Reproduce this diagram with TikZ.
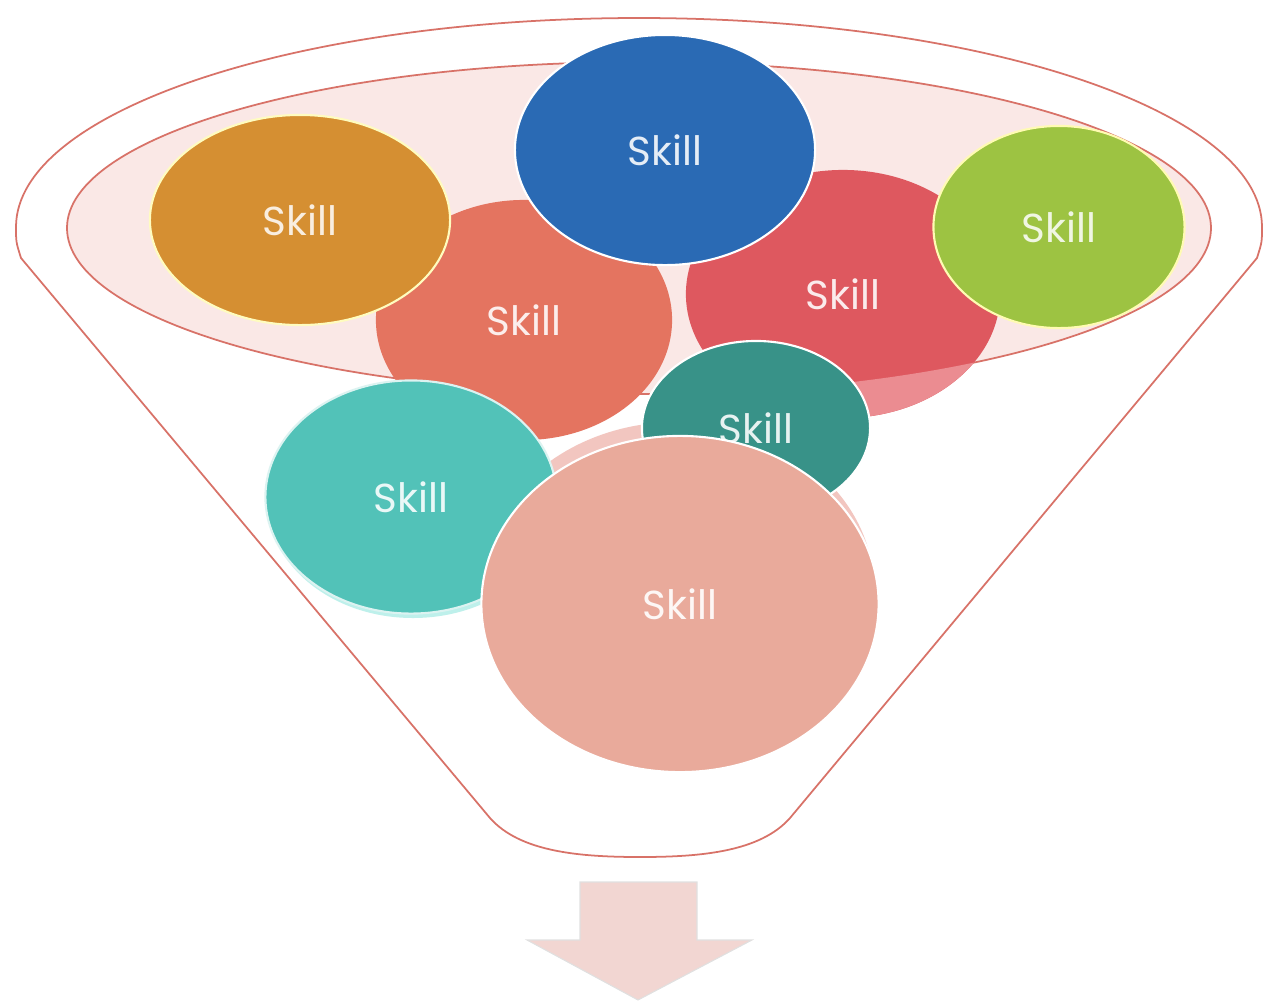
\documentclass[tikz,border=0pt]{standalone}
\usepackage{fontspec}
\setmainfont{Poppins}
\usetikzlibrary{shapes.geometric}

\definecolor{funnelline}{RGB}{216,114,104}
\definecolor{funnelin}{RGB}{250,232,230}
\definecolor{arrowpink}{RGB}{242,214,210}
\definecolor{skillorange}{RGB}{213,143,50}
\definecolor{skillblue}{RGB}{42,106,180}
\definecolor{skillcoral}{RGB}{228,116,96}
\definecolor{skillred}{RGB}{222,88,95}
\definecolor{skillredlight}{RGB}{235,140,145}
\definecolor{skillgreen}{RGB}{157,195,66}
\definecolor{skillteal}{RGB}{56,146,136}
\definecolor{skillturq}{RGB}{82,194,184}
\definecolor{skillturqlight}{RGB}{190,240,235}
\definecolor{skillpink}{RGB}{233,170,155}
\definecolor{skillpinklight}{RGB}{242,198,192}

\tikzset{
  skill/.style={ellipse, inner sep=0pt, line width=0.6pt,
    font=\fontsize{11.5}{13}\selectfont},
}

\begin{document}
\begin{tikzpicture}[x=0.01cm, y=-0.01cm]
    \useasboundingbox (0,0) rectangle (1278,1002);
    % funnel
    \draw [funnelline, fill=white, line width=0.5pt] (16,227)
        arc [start angle=180, end angle=360, x radius=623, y radius=209]
        .. controls (1262,242) .. (1257,258) -- (790,818)
        .. controls (760,852) and (700,857) .. (640,857)
        .. controls (580,857) and (520,852) .. (490,818) -- (21,258)
        .. controls (16,242) .. cycle;
    \draw [funnelline, fill=funnelin, line width=0.5pt] (639,228) ellipse [x radius=572, y radius=166];
    % arrow
    \draw [fill=arrowpink, draw=black!12, line width=0.3pt]
        (580,882) -- (697,882) -- (697,940) -- (752,940) -- (638,1000)
        -- (527,940) -- (580,940) -- cycle;
    % back row
    \node [skill, fill=skillcoral, text=white!88!skillcoral,
        minimum width=2.96cm, minimum height=2.40cm] (coral) at (524,320) {Skill};
    \node [skill, fill=skillred, text=white!88!skillred,
        minimum width=3.14cm, minimum height=2.48cm] (red) at (843,294) {Skill};
    \begin{scope}
      \clip (843,294) ellipse [x radius=157, y radius=124];
      \fill [skillredlight, even odd rule] (0,0) rectangle (1278,1002)
          (639,228) ellipse [x radius=572, y radius=166];
    \end{scope}
    \fill [skillpinklight] (677,589) ellipse [x radius=197, y radius=167];
    \node [skill, fill=skillorange, draw=white!75!yellow, text=white!85!skillorange,
        minimum width=3.00cm, minimum height=2.10cm] (orange) at (300,220) {Skill};
    \node [skill, fill=skillblue, draw=white, text=white!88!skillblue,
        minimum width=3.00cm, minimum height=2.30cm] (blue) at (665,150) {Skill};
    \node [skill, fill=skillgreen, draw=white!70!yellow, text=white!85!skillgreen,
        minimum width=2.51cm, minimum height=2.02cm] (green) at (1059,227) {Skill};
    % front row
    \node [skill, fill=skillteal, draw=white, text=white!88!skillteal,
        minimum width=2.28cm, minimum height=1.74cm] (teal) at (756,428) {Skill};
    \fill [skillturqlight] (413,502) ellipse [x radius=145, y radius=116];
    \node [skill, fill=skillturq, draw=white!80!skillturq, text=white!88!skillturq,
        minimum width=2.91cm, minimum height=2.33cm] (turq) at (411,497) {Skill};
    \node [skill, fill=skillpink, draw=white, text=white!90!skillpink,
        minimum width=3.97cm, minimum height=3.36cm] (pink) at (680,604) {Skill};
\end{tikzpicture}
\end{document}
